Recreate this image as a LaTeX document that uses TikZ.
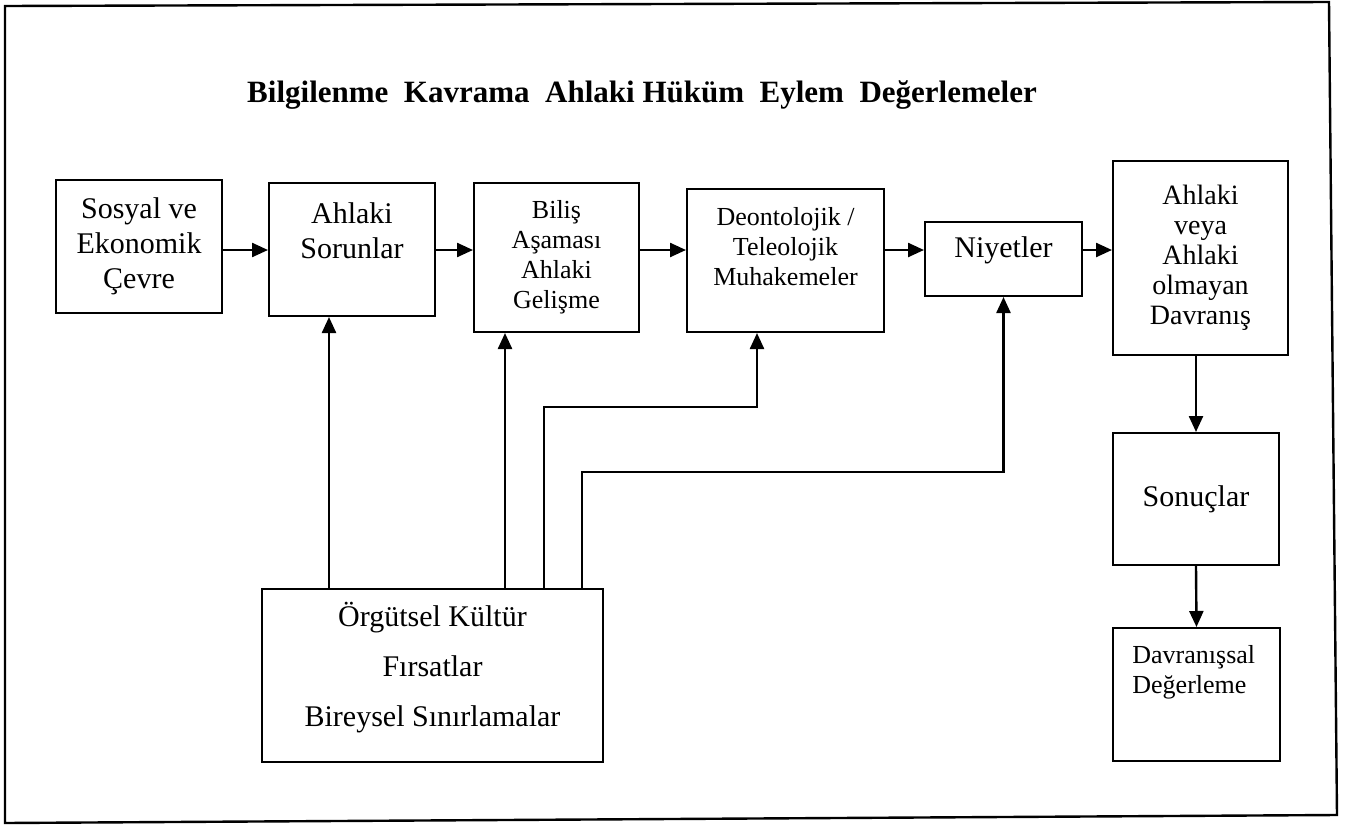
\documentclass[tikz,border=0pt]{standalone}
\usepackage{fontspec}
\setmainfont{Liberation Serif}
\usetikzlibrary{arrows.meta}

\tikzset{
  kutu/.style={draw, line width=1pt, inner sep=0pt},
  yazi/.style={inner sep=0pt, align=center},
  ok/.style={line width=1.2pt, -{Triangle[length=8pt,width=7pt]}},
}
\newcommand{\buyuk}{\fontsize{15}{17.5}\selectfont}
\newcommand{\orta}{\fontsize{14}{15}\selectfont}
\newcommand{\kucuk}{\fontsize{13}{15}\selectfont}

\begin{document}
\begin{tikzpicture}[x=0.5pt,y=-0.5pt]
\useasboundingbox (0,0) rectangle (1346,825);
\draw[line width=1.2pt] (5,6) -- (1329,2) -- (1337,815) -- (5,823) -- cycle;%cadre

\node[inner sep=0pt, font=\bfseries\fontsize{15.5}{18}\selectfont] (baslik) at (642,95) {Bilgilenme\ \ Kavrama\ \ Ahlaki Hüküm\ \ Eylem\ \ Değerlemeler};

%les boites
\node[kutu, yazi, font=\buyuk, minimum width=83pt, minimum height=66.5pt] (cevre) at (139,246.5) {Sosyal ve\\Ekonomik\\Çevre};
\node[kutu, minimum width=83pt, minimum height=66.5pt, label={[yazi, font=\buyuk, anchor=north, yshift=-10pt]north:Ahlaki\\Sorunlar}] (sorun) at (352,249.5) {};
\node[kutu, yazi, font=\kucuk, minimum width=82.5pt, minimum height=74.5pt] (bilis) at (556.5,257.5) {Biliş\\Aşaması\\Ahlaki\\Gelişme};
\node[kutu, minimum width=98.5pt, minimum height=71.5pt, label={[yazi, font=\kucuk, anchor=north, yshift=-9.5pt]north:Deontolojik /\\Teleolojik\\Muhakemeler}] (muhakeme) at (785.5,260.5) {};
\node[kutu, minimum width=78.5pt, minimum height=37pt, label={[yazi, font=\buyuk, anchor=center, yshift=4.5pt]center:Niyetler}] (niyet) at (1003.5,259) {};
\node[kutu, yazi, font=\orta, minimum width=87.5pt, minimum height=97pt] (davranis) at (1200.5,258) {Ahlaki\\veya\\Ahlaki\\olmayan\\Davranış};
\node[kutu, yazi, font=\buyuk, minimum width=83pt, minimum height=66pt] (sonuc) at (1196,499) {Sonuçlar};
\node[kutu, minimum width=83.5pt, minimum height=66.5pt, label={[inner sep=0pt, align=left, font=\kucuk, anchor=north west, xshift=10pt, yshift=-9pt]north west:Davranışsal\\Değerleme}] (deger) at (1196.5,694.5) {};
\node[kutu, minimum width=170.5pt, minimum height=86.5pt, label={[yazi, font=\fontsize{15}{25}\selectfont, anchor=center, yshift=4pt]center:Örgütsel Kültür\\Fırsatlar\\Bireysel Sınırlamalar}] (orgut) at (432.5,675.5) {};

%les fleches
\coordinate (hat) at (0,250);
\draw[ok] (cevre.east |- hat) -- (sorun.west |- hat);
\draw[ok] (sorun.east |- hat) -- (bilis.west |- hat);
\draw[ok] (bilis.east |- hat) -- (muhakeme.west |- hat);
\draw[ok] (muhakeme.east |- hat) -- (niyet.west |- hat);
\draw[ok] (niyet.east |- hat) -- (davranis.west |- hat);
\draw[ok] (sonuc.north |- davranis.south) -- (sonuc.north);
\draw[ok] (sonuc.south) -- (deger.north);

\coordinate (a1) at (329,0);
\coordinate (a2) at (505,0);
\draw[ok] (a1 |- orgut.north) -- (a1 |- sorun.south);
\draw[ok] (a2 |- orgut.north) -- (a2 |- bilis.south);
\coordinate (b1) at (544,407);
\coordinate (b2) at (757,407);
\draw[ok] (b1 |- orgut.north) -- (b1) -- (b2) -- (b2 |- muhakeme.south);
\coordinate (c1) at (582,472);
\draw[ok] (c1 |- orgut.north) -- (c1) -| (niyet.south);
\end{tikzpicture}
\end{document}
